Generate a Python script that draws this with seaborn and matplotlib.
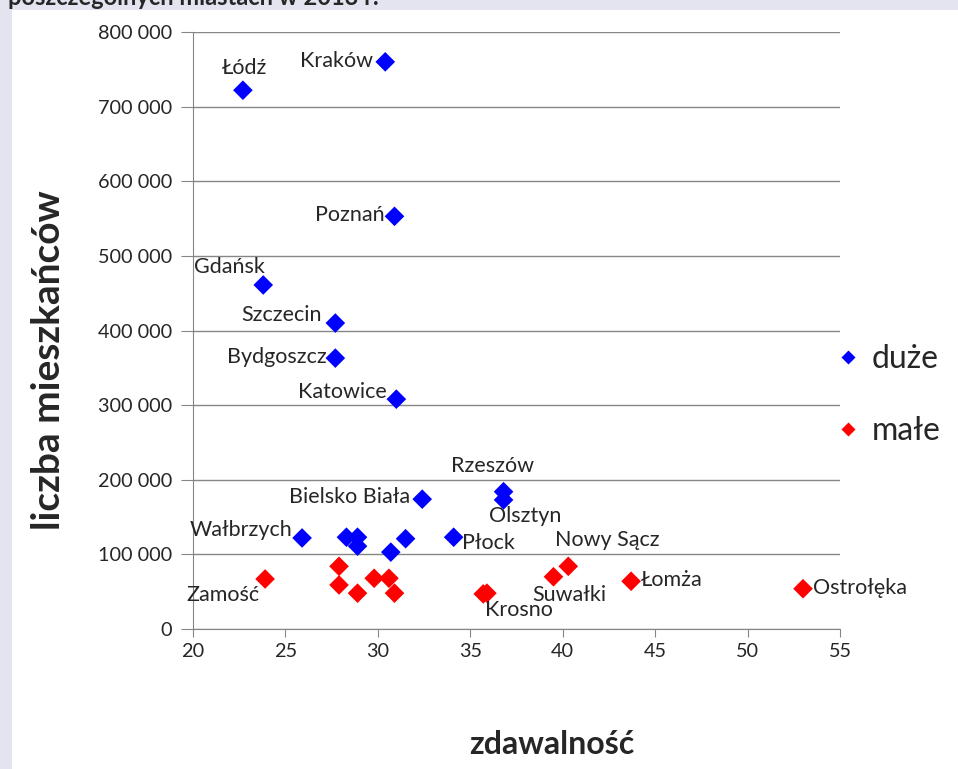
import pandas as pd
import seaborn as sns
import matplotlib.pyplot as plt
from matplotlib.patches import Rectangle
from matplotlib.ticker import FuncFormatter

# duże miasta
duze_x = [22.7, 30.4, 30.9, 23.8, 27.7, 27.7, 31.0, 32.4, 36.8, 36.8, 25.9, 28.3, 28.9, 28.9, 30.7, 31.5, 34.1]
duze_y = [722000, 760000, 553000, 461000, 410000, 363000, 308000, 174000, 184000, 173000,
          122000, 123000, 123000, 111000, 103000, 121000, 123000]
duze_names = ["Łódź", "Kraków", "Poznań", "Gdańsk", "Szczecin", "Bydgoszcz", "Katowice", "Bielsko Biała",
              "Rzeszów", "Olsztyn", "Wałbrzych", "", "", "", "", "", "Płock"]

# małe miasta
male_x = [23.9, 27.9, 27.9, 28.9, 29.8, 30.6, 30.9, 35.7, 35.9, 39.5, 40.3, 43.7, 53.0]
male_y = [67000, 84000, 59000, 48000, 68000, 68000, 48000, 47000, 48000, 70000, 84000, 64000, 54000]
male_names = ["Zamość", "", "", "", "", "", "", "Krosno", "", "Suwałki", "Nowy Sącz", "Łomża", "Ostrołęka"]

x_ticks = [20, 25, 30, 35, 40, 45, 50, 55]
y_ticks = [0, 100000, 200000, 300000, 400000, 500000, 600000, 700000, 800000]

# label placement: (dx px, dy px, ha)
label_pos = {
    "Łódź": (2, 22, "center"), "Kraków": (-12, 1, "right"), "Poznań": (-10, 1, "right"),
    "Gdańsk": (2, 18, "right"), "Szczecin": (-14, 8, "right"), "Bydgoszcz": (-9, 1, "right"),
    "Katowice": (-10, 7, "right"), "Bielsko Biała": (-12, 2, "right"), "Rzeszów": (-11, 26, "center"),
    "Olsztyn": (22, -16, "center"), "Wałbrzych": (-10, 8, "right"), "Płock": (8, -6, "left"),
    "Zamość": (-6, -16, "right"), "Krosno": (2, -16, "left"), "Suwałki": (-21, -18, "left"),
    "Nowy Sącz": (-13, 26, "left"), "Łomża": (10, 1, "left"), "Ostrołęka": (10, 1, "left"),
}

df = pd.DataFrame({
    "x": duze_x + male_x,
    "y": duze_y + male_y,
    "name": duze_names + male_names,
    "grupa": ["duże"] * len(duze_x) + ["małe"] * len(male_x),
})

sns.set_style("white")
plt.rcParams["font.family"] = ["Lato", "DejaVu Sans"]

fig = plt.figure(figsize=(9.58, 7.69), dpi=100, facecolor="#e4e4f1")
fig.add_artist(Rectangle((12 / 958, 0), 1, 1 - 10 / 769, transform=fig.transFigure,
                         facecolor="white", edgecolor="none", zorder=0))
# title of the slide, cut off at the top edge as in the original
fig.text(8 / 958, 1 - 5 / 769, "poszczególnych miastach w 2013 r.", fontsize=17,
         fontweight="bold", va="baseline", ha="left")

ax = fig.add_axes([193 / 958, 1 - 629 / 769, (840 - 193) / 958, (629 - 32) / 769])
ax.set_facecolor("white")

sns.scatterplot(data=df, x="x", y="y", hue="grupa", palette={"duże": "blue", "małe": "red"},
                marker="D", s=100, edgecolor="none", ax=ax, zorder=3)

for _, r in df.iterrows():
    if r["name"]:
        dx, dy, ha = label_pos[r["name"]]
        ax.annotate(r["name"], (r["x"], r["y"]), xytext=(dx, dy), textcoords="offset pixels",
                    ha=ha, va="center", fontsize=15.5, zorder=4)

ax.set_xlim(20, 55)
ax.set_ylim(0, 800000)
ax.set_xticks(x_ticks)
ax.set_yticks(y_ticks)
ax.yaxis.set_major_formatter(FuncFormatter(lambda v, p: f"{int(v):,}".replace(",", " ")))
ax.grid(axis="y", color="#868686", linewidth=1)
ax.grid(axis="x", visible=False)
for side in ["top", "right"]:
    ax.spines[side].set_visible(False)
for side in ["left", "bottom"]:
    ax.spines[side].set_color("#868686")
ax.tick_params(axis="y", length=9, color="#868686", labelsize=14.3, pad=6, left=True)
ax.tick_params(axis="x", length=6, color="#868686", labelsize=14.3, pad=4, bottom=True)

ax.set_xlabel("zdawalność", fontsize=23, fontweight="bold", va="center")
ax.set_ylabel("liczba mieszkańców", fontsize=28, fontweight="bold", va="center")
ax.xaxis.set_label_coords(0.555, -0.194)
ax.yaxis.set_label_coords(-0.224, 0.45)

sns.move_legend(ax, "center left", bbox_to_anchor=(1.0, 0.392), frameon=False, title=None,
                fontsize=23, markerscale=0.75, labelspacing=1.3, handlelength=0.5,
                handletextpad=0.5, borderpad=0, borderaxespad=0.0)

fig.savefig("out.png", dpi=100, facecolor=fig.get_facecolor())
